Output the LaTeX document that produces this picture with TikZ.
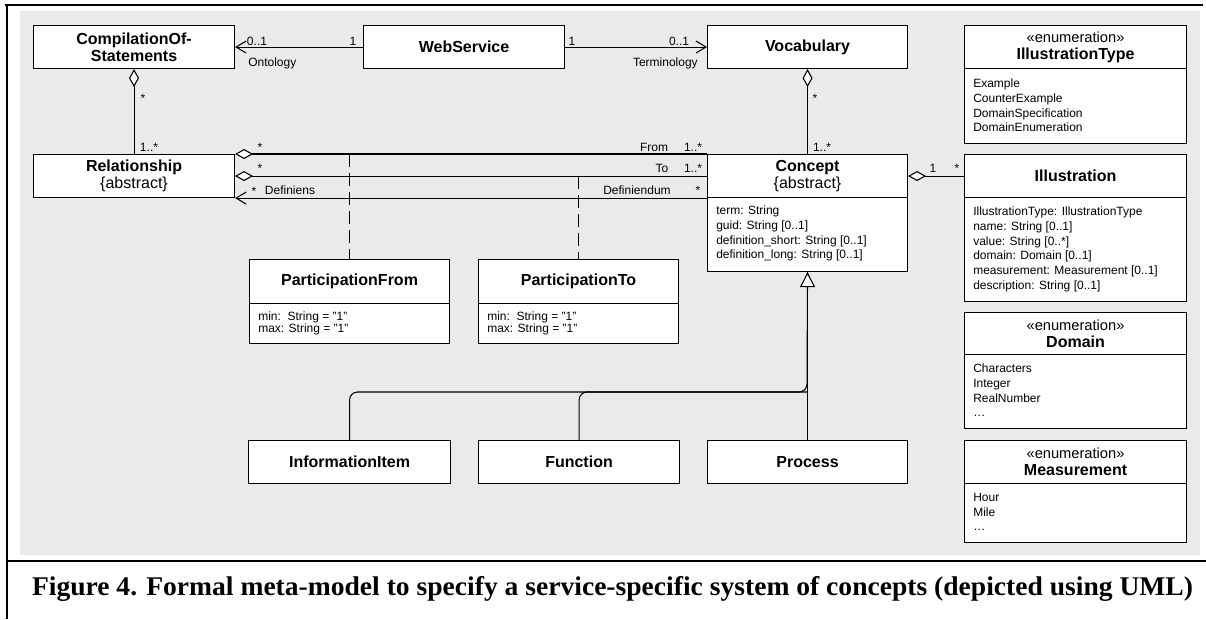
\documentclass[tikz,border=0pt]{standalone}
\usepackage{fontspec}
\setmainfont{Liberation Sans}
\newfontfamily\capfont{Liberation Serif}
\usetikzlibrary{arrows.meta,calc}
\definecolor{bg}{HTML}{EAEAEA}
\begin{document}
\begin{tikzpicture}[x=0.75pt,y=-0.75pt,
  cls/.style 2 args={draw, fill=white, line width=0.8pt, inner sep=0pt, anchor=north west,
    minimum width=#1*0.75pt, minimum height=#2*0.75pt, align=center,
    font=\fontsize{12pt}{13pt}\selectfont},
  att/.style={anchor=north west, inner sep=0pt, align=left, font=\fontsize{9pt}{11pt}\selectfont},
  attp/.style={anchor=north west, inner sep=0pt, align=left, font=\fontsize{9pt}{8.4pt}\selectfont},
  lab/.style={inner sep=0pt, text height=6.5pt, text depth=0pt, font=\fontsize{9pt}{10pt}\selectfont},
  ln/.style={line width=0.8pt},
  nav/.style={ln, -{Straight Barb[length=7.5pt,width=9pt,line width=0.8pt]}},
  navs/.style={ln, {Straight Barb[length=7.5pt,width=9pt,line width=0.8pt]}-},
  agg/.style={ln, {Diamond[fill=white,length=13.5pt,width=7.5pt,line width=0.8pt]}-},
  gen/.style={ln, -{Triangle[fill=white,length=11.25pt,width=11.25pt,line width=0.8pt]}},
  dsh/.style={ln, dash pattern=on 9.75pt off 4.5pt},
  enum/.style={font=\fontsize{11pt}{13pt}\selectfont}
]
\useasboundingbox (0,0) rectangle (1206,619);
% frame and background
\fill[bg] (20,11) rectangle (1200,555);
\draw[line width=1.8pt] (5,5) -- (1203,5);
\draw[line width=1.8pt] (7,5) -- (7,619);
\draw[line width=2.2pt] (7,561) -- (1206,561);

% classes
\node[cls={201}{43}] (comp) at (33,25) {\textbf{CompilationOf-}\\\textbf{Statements}};
\node[cls={201}{43}] (ws) at (363,25) {\textbf{WebService}};
\node[cls={200}{43}] (voc) at (707,25) {\textbf{Vocabulary}};
\node[cls={222}{43}] (ilt) at (964,25) {{\fontsize{11pt}{13pt}\selectfont «enumeration»}\\\textbf{IllustrationType}};
\node[cls={222}{75}] (iltb) at (964,68) {};
\node[att] (iltt) at (973,79) {Example\\CounterExample\\DomainSpecification\\DomainEnumeration};

\node[cls={201}{43}] (rel) at (33,154) {\textbf{Relationship}\\\{abstract\}};
\node[cls={200}{43}] (con) at (707,154) {\textbf{Concept}\\\{abstract\}};
\node[cls={200}{74}] (conb) at (707,197) {};
\node[att] (cont) at (716,206) {term: String\\guid: String [0..1]\\definition\_short: String [0..1]\\definition\_long: String [0..1]};

\node[cls={222}{43}] (ill) at (964,154) {\textbf{Illustration}};
\node[cls={222}{104}] (illb) at (964,197) {};
\node[att] (illt) at (973,207) {IllustrationType: IllustrationType\\name: String [0..1]\\value: String [0..*]\\domain: Domain [0..1]\\measurement: Measurement [0..1]\\description: String [0..1]};

\node[cls={222}{42}] (dom) at (964,312) {{\fontsize{11pt}{13pt}\selectfont «enumeration»}\\\textbf{Domain}};
\node[cls={222}{74}] (domb) at (964,354) {};
\node[att] (domt) at (973,364) {Characters\\Integer\\RealNumber\\…};

\node[cls={222}{43}] (mea) at (964,440) {{\fontsize{11pt}{13pt}\selectfont «enumeration»}\\\textbf{Measurement}};
\node[cls={222}{59}] (meab) at (964,483) {};
\node[att] (meat) at (973,493) {Hour\\Mile\\…};

\node[cls={200}{44}] (pf) at (249,259) {\textbf{ParticipationFrom}};
\node[cls={200}{40}] (pfb) at (249,303) {};
\node[attp] (pft) at (258,312) {min:\ \ String = "1"\\max: String = "1"};

\node[cls={200}{44}] (pt) at (478,259) {\textbf{ParticipationTo}};
\node[cls={200}{40}] (ptb) at (478,303) {};
\node[attp] (ptt) at (487,312) {min:\ \ String = "1"\\max: String = "1"};

\node[cls={202}{43}] (ii) at (248,440) {\textbf{InformationItem}};
\node[cls={201}{43}] (fn) at (478,440) {\textbf{Function}};
\node[cls={200}{43}] (pr) at (707,440) {\textbf{Process}};

% associations
\draw[nav] (ws.west) -- (comp.east);
\draw[nav] (ws.east) -- (voc.west);
\draw[agg] (comp.south) -- (rel.north);
\draw[agg] (voc.south) -- (con.north);
\draw[agg] (rel.north east) -- (con.north west);
\draw[agg] (rel.east) -- (con.west);
\draw[navs] (rel.south east) -- (con.south west);
\draw[agg] (con.east) -- (ill.west);
\draw[dsh] (pf.north |- rel.north east) -- (pf.north);
\draw[dsh] (pt.north |- rel.east) -- (pt.north);

% generalization
\coordinate (gj) at (807,392);
\draw[ln, rounded corners=6pt] (ii.north) |- (gj) -- (conb.south);
\draw[ln, rounded corners=6pt] (fn.north) |- (gj);
\draw[gen] (pr.north) -- (conb.south);

% labels
\node[lab] (l1) at (257,41) {0..1};
\node[lab, anchor=west] (l2) at (248,62) {Ontology};
\node[lab] (l3) at (353,41) {1};
\node[lab] (l4) at (572,41) {1};
\node[lab] (l5) at (679,41) {0..1};
\node[lab, anchor=east] (l6) at (698,62) {Terminology};
\node[lab] (l7) at (143,98) {*};
\node[lab] (l8) at (149,147) {1..*};
\node[lab] (l9) at (815,98) {*};
\node[lab] (l10) at (822,147) {1..*};
\node[lab] (l11) at (260,147) {*};
\node[lab] (l12) at (654,147) {From};
\node[lab] (l13) at (693,147) {1..*};
\node[lab] (l14) at (260,168) {*};
\node[lab] (l15) at (662,168) {To};
\node[lab] (l16) at (693,168) {1..*};
\node[lab] (l17) at (254,191) {*};
\node[lab] (l18) at (290,190) {Definiens};
\node[lab] (l19) at (637,190) {Definiendum};
\node[lab] (l20) at (698,190) {*};
\node[lab] (l21) at (933,168) {1};
\node[lab] (l22) at (957,168) {*};

% caption
\node[anchor=base, inner sep=0pt, font=\capfont\bfseries\fontsize{20.25pt}{24pt}\selectfont] (cap) at (612.5,595)
  {\resizebox{870.75pt}{\height}{Figure 4. Formal meta-model to specify a service-specific system of concepts (depicted using UML)}};
\end{tikzpicture}
\end{document}
